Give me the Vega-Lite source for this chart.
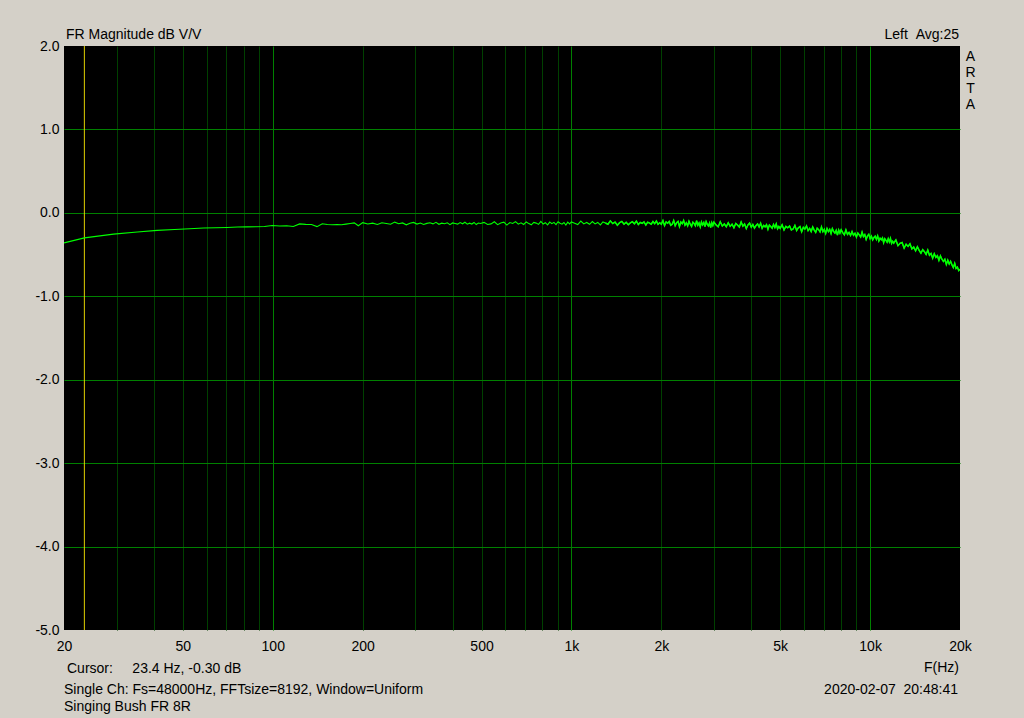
{
  "$schema": "https://vega.github.io/schema/vega-lite/v6.json",
  "width": 896,
  "height": 584,
  "autosize": {"type": "none"},
  "padding": {"left": 64, "top": 46, "right": 64, "bottom": 88},
  "background": "#D4D0C8",
  "config": {"view": {"fill": "#000000", "stroke": null}, "font": "Liberation Sans"},
  "datasets": {
    "fr": [
        {"f":20,"db":-0.36},{"f":23.4,"db":-0.30},{"f":29.3,"db":-0.255},{"f":35.2,"db":-0.23},{"f":41.0,"db":-0.21},{"f":46.9,"db":-0.20},{"f":52.7,"db":-0.19},{"f":58.6,"db":-0.182},{"f":64.5,"db":-0.178},{"f":70.3,"db":-0.175},{"f":76.2,"db":-0.17},{"f":82.0,"db":-0.168},{"f":87.9,"db":-0.167},{"f":93.8,"db":-0.164},{"f":99.6,"db":-0.152},{"f":105.5,"db":-0.158},{"f":111.3,"db":-0.155},{"f":117.2,"db":-0.163},{"f":123.0,"db":-0.132},{"f":128.9,"db":-0.138},{"f":134.8,"db":-0.14},{"f":140.6,"db":-0.165},{"f":146.5,"db":-0.13},{"f":152.3,"db":-0.14},{"f":158.2,"db":-0.142},{"f":164.1,"db":-0.14},{"f":169.9,"db":-0.142},{"f":175.8,"db":-0.135},{"f":181.6,"db":-0.128},{"f":187.5,"db":-0.12},{"f":193.4,"db":-0.155},
        {"f":200,"db":-0.117},{"f":208,"db":-0.134},{"f":216,"db":-0.123},{"f":224,"db":-0.140},{"f":232,"db":-0.119},{"f":240,"db":-0.127},{"f":248,"db":-0.136},{"f":256,"db":-0.111},{"f":264,"db":-0.131},{"f":272,"db":-0.121},{"f":280,"db":-0.143},{"f":288,"db":-0.124},{"f":296,"db":-0.115},{"f":304,"db":-0.135},{"f":312,"db":-0.122},{"f":320,"db":-0.139},{"f":328,"db":-0.126},{"f":336,"db":-0.118},{"f":344,"db":-0.132},{"f":352,"db":-0.114},{"f":360,"db":-0.137},{"f":368,"db":-0.123},{"f":376,"db":-0.130},{"f":384,"db":-0.119},{"f":392,"db":-0.141},{"f":400,"db":-0.121},{"f":408,"db":-0.127},{"f":416,"db":-0.135},{"f":424,"db":-0.117},{"f":432,"db":-0.131},{"f":440,"db":-0.113},{"f":448,"db":-0.136},{"f":456,"db":-0.124},{"f":464,"db":-0.134},{"f":472,"db":-0.115},{"f":480,"db":-0.140},{"f":488,"db":-0.122},{"f":496,"db":-0.128},
        {"f":510,"db":-0.114},{"f":524,"db":-0.139},{"f":538,"db":-0.132},{"f":552,"db":-0.107},{"f":566,"db":-0.141},{"f":580,"db":-0.121},{"f":594,"db":-0.112},{"f":608,"db":-0.147},{"f":622,"db":-0.116},{"f":636,"db":-0.127},{"f":650,"db":-0.105},{"f":664,"db":-0.136},{"f":678,"db":-0.120},{"f":692,"db":-0.139},{"f":706,"db":-0.109},{"f":720,"db":-0.129},{"f":734,"db":-0.143},{"f":748,"db":-0.114},{"f":762,"db":-0.123},{"f":776,"db":-0.138},{"f":790,"db":-0.103},{"f":804,"db":-0.134},{"f":818,"db":-0.118},{"f":832,"db":-0.145},{"f":846,"db":-0.111},{"f":860,"db":-0.130},{"f":874,"db":-0.114},{"f":888,"db":-0.141},{"f":902,"db":-0.107},{"f":916,"db":-0.125},{"f":930,"db":-0.136},{"f":944,"db":-0.116},{"f":958,"db":-0.147},{"f":972,"db":-0.112},{"f":986,"db":-0.132},{"f":1000,"db":-0.109},
        {"f":1025,"db":-0.124},{"f":1050,"db":-0.140},{"f":1075,"db":-0.098},{"f":1100,"db":-0.133},{"f":1125,"db":-0.115},{"f":1150,"db":-0.137},{"f":1175,"db":-0.104},{"f":1200,"db":-0.133},{"f":1225,"db":-0.115},{"f":1250,"db":-0.144},{"f":1275,"db":-0.109},{"f":1300,"db":-0.122},{"f":1325,"db":-0.137},{"f":1350,"db":-0.096},{"f":1375,"db":-0.129},{"f":1400,"db":-0.111},{"f":1425,"db":-0.148},{"f":1450,"db":-0.118},{"f":1475,"db":-0.102},{"f":1500,"db":-0.135},{"f":1525,"db":-0.113},{"f":1550,"db":-0.142},{"f":1575,"db":-0.120},{"f":1600,"db":-0.107},{"f":1625,"db":-0.131},{"f":1650,"db":-0.100},{"f":1675,"db":-0.140},{"f":1700,"db":-0.115},{"f":1725,"db":-0.126},{"f":1750,"db":-0.109},{"f":1775,"db":-0.146},{"f":1800,"db":-0.111},{"f":1825,"db":-0.122},{"f":1850,"db":-0.135},{"f":1875,"db":-0.104},{"f":1900,"db":-0.129},{"f":1925,"db":-0.098},{"f":1950,"db":-0.137},{"f":1975,"db":-0.118},
        {"f":2000,"db":-0.136},{"f":2025,"db":-0.092},{"f":2050,"db":-0.153},{"f":2075,"db":-0.109},{"f":2100,"db":-0.125},{"f":2125,"db":-0.103},{"f":2150,"db":-0.149},{"f":2175,"db":-0.136},{"f":2200,"db":-0.092},{"f":2225,"db":-0.153},{"f":2250,"db":-0.119},{"f":2275,"db":-0.103},{"f":2300,"db":-0.164},{"f":2325,"db":-0.111},{"f":2350,"db":-0.130},{"f":2375,"db":-0.092},{"f":2400,"db":-0.147},{"f":2425,"db":-0.119},{"f":2450,"db":-0.155},{"f":2475,"db":-0.101},{"f":2500,"db":-0.136},{"f":2525,"db":-0.163},{"f":2550,"db":-0.112},{"f":2575,"db":-0.128},{"f":2600,"db":-0.154},{"f":2625,"db":-0.094},{"f":2650,"db":-0.149},{"f":2675,"db":-0.121},{"f":2700,"db":-0.169},{"f":2725,"db":-0.109},{"f":2750,"db":-0.145},{"f":2775,"db":-0.116},{"f":2800,"db":-0.165},{"f":2825,"db":-0.105},{"f":2850,"db":-0.137},{"f":2875,"db":-0.157},{"f":2900,"db":-0.122},{"f":2925,"db":-0.177},{"f":2950,"db":-0.117},{"f":2975,"db":-0.152},
        {"f":3000,"db":-0.111},{"f":3050,"db":-0.144},{"f":3100,"db":-0.167},{"f":3150,"db":-0.107},{"f":3200,"db":-0.158},{"f":3250,"db":-0.133},{"f":3300,"db":-0.166},{"f":3350,"db":-0.119},{"f":3400,"db":-0.161},{"f":3450,"db":-0.136},{"f":3500,"db":-0.178},{"f":3550,"db":-0.127},{"f":3600,"db":-0.147},{"f":3650,"db":-0.170},{"f":3700,"db":-0.110},{"f":3750,"db":-0.159},{"f":3800,"db":-0.134},{"f":3850,"db":-0.189},{"f":3900,"db":-0.144},{"f":3950,"db":-0.123},{"f":4000,"db":-0.171},{"f":4050,"db":-0.140},{"f":4100,"db":-0.183},{"f":4150,"db":-0.152},{"f":4200,"db":-0.133},{"f":4250,"db":-0.169},{"f":4300,"db":-0.125},{"f":4350,"db":-0.184},{"f":4400,"db":-0.150},{"f":4450,"db":-0.167},{"f":4500,"db":-0.142},{"f":4550,"db":-0.197},{"f":4600,"db":-0.147},{"f":4650,"db":-0.164},{"f":4700,"db":-0.184},{"f":4750,"db":-0.140},{"f":4800,"db":-0.176},{"f":4850,"db":-0.132},{"f":4900,"db":-0.191},{"f":4950,"db":-0.163},
        {"f":5000,"db":-0.186},{"f":5075,"db":-0.143},{"f":5150,"db":-0.205},{"f":5225,"db":-0.162},{"f":5300,"db":-0.179},{"f":5375,"db":-0.158},{"f":5450,"db":-0.205},{"f":5525,"db":-0.193},{"f":5600,"db":-0.150},{"f":5675,"db":-0.212},{"f":5750,"db":-0.179},{"f":5825,"db":-0.164},{"f":5900,"db":-0.226},{"f":5975,"db":-0.174},{"f":6050,"db":-0.194},{"f":6125,"db":-0.157},{"f":6200,"db":-0.213},{"f":6275,"db":-0.186},{"f":6350,"db":-0.223},{"f":6425,"db":-0.170},{"f":6500,"db":-0.206},{"f":6575,"db":-0.234},{"f":6650,"db":-0.184},{"f":6725,"db":-0.201},{"f":6800,"db":-0.228},{"f":6875,"db":-0.169},{"f":6950,"db":-0.225},{"f":7025,"db":-0.198},{"f":7100,"db":-0.247},{"f":7175,"db":-0.188},{"f":7250,"db":-0.225},{"f":7325,"db":-0.198},{"f":7400,"db":-0.248},{"f":7475,"db":-0.189},{"f":7550,"db":-0.222},{"f":7625,"db":-0.243},{"f":7700,"db":-0.209},{"f":7775,"db":-0.266},{"f":7850,"db":-0.206},{"f":7925,"db":-0.243},
        {"f":8000,"db":-0.203},{"f":8100,"db":-0.238},{"f":8200,"db":-0.263},{"f":8300,"db":-0.205},{"f":8400,"db":-0.258},{"f":8500,"db":-0.235},{"f":8600,"db":-0.270},{"f":8700,"db":-0.225},{"f":8800,"db":-0.269},{"f":8900,"db":-0.246},{"f":9000,"db":-0.290},{"f":9100,"db":-0.242},{"f":9200,"db":-0.264},{"f":9300,"db":-0.290},{"f":9400,"db":-0.232},{"f":9500,"db":-0.284},{"f":9600,"db":-0.261},{"f":9700,"db":-0.319},{"f":9800,"db":-0.277},{"f":9900,"db":-0.258},{"f":10000,"db":-0.309},{"f":10100,"db":-0.280},{"f":10200,"db":-0.325},{"f":10300,"db":-0.296},{"f":10400,"db":-0.280},{"f":10500,"db":-0.318},{"f":10600,"db":-0.276},{"f":10700,"db":-0.337},{"f":10800,"db":-0.304},{"f":10900,"db":-0.323},{"f":11000,"db":-0.301},{"f":11100,"db":-0.358},{"f":11200,"db":-0.310},{"f":11300,"db":-0.329},{"f":11400,"db":-0.351},{"f":11500,"db":-0.309},{"f":11600,"db":-0.348},{"f":11700,"db":-0.306},{"f":11800,"db":-0.366},{"f":11900,"db":-0.341},
        {"f":12000,"db":-0.363},{"f":12200,"db":-0.325},{"f":12400,"db":-0.393},{"f":12600,"db":-0.365},{"f":12800,"db":-0.356},{"f":13000,"db":-0.423},{"f":13200,"db":-0.376},{"f":13400,"db":-0.402},{"f":13600,"db":-0.371},{"f":13800,"db":-0.432},{"f":14000,"db":-0.410},{"f":14200,"db":-0.454},{"f":14400,"db":-0.407},{"f":14600,"db":-0.450},{"f":14800,"db":-0.484},{"f":15000,"db":-0.441},{"f":15200,"db":-0.465},{"f":15400,"db":-0.498},{"f":15600,"db":-0.446},{"f":15800,"db":-0.508},{"f":16000,"db":-0.487},{"f":16200,"db":-0.543},{"f":16400,"db":-0.490},{"f":16600,"db":-0.534},{"f":16800,"db":-0.513},{"f":17000,"db":-0.569},{"f":17200,"db":-0.516},{"f":17400,"db":-0.556},{"f":17600,"db":-0.583},{"f":17800,"db":-0.556},{"f":18000,"db":-0.618},{"f":18200,"db":-0.568},{"f":18400,"db":-0.613},{"f":18600,"db":-0.581},{"f":18800,"db":-0.623},{"f":19000,"db":-0.656},{"f":19200,"db":-0.605},{"f":19400,"db":-0.666},{"f":19600,"db":-0.650},{"f":19800,"db":-0.692},{"f":20000,"db":-0.675}
    ]
  },
  "layer": [
    {
      "data": {"values": [{}]},
      "mark": {"type": "rule", "color": "#E0D000", "strokeWidth": 1},
      "encoding": {"x": {"datum": 23.4, "type": "quantitative"}}
    },
    {
      "data": {"name": "fr"},
      "mark": {"type": "line", "color": "#00FF00", "strokeWidth": 1.1, "clip": true, "interpolate": "linear"},
      "encoding": {
        "x": {
          "field": "f", "type": "quantitative",
          "scale": {"type": "log", "domain": [20, 20000], "nice": false},
          "axis": {
            "values": [20,30,40,50,60,70,80,90,100,200,300,400,500,600,700,800,900,1000,2000,3000,4000,5000,6000,7000,8000,9000,10000,20000],
            "title": null, "domain": false, "ticks": false,
            "labelPadding": 9, "labelFontSize": 14, "labelColor": "#000000", "labelFont": "Liberation Sans",
            "labelFlush": false, "labelOverlap": false,
            "labelExpr": "indexof([20,50,100,200,500], datum.value) >= 0 ? '' + datum.value : (indexof([1000,2000,5000,10000,20000], datum.value) >= 0 ? (datum.value / 1000) + 'k' : '')",
            "grid": true, "gridWidth": 1,
            "gridColor": {"condition": {"test": "datum.value == 100 || datum.value == 1000 || datum.value == 10000", "value": "#008000"}, "value": "#004000"},
            "gridOpacity": {"condition": {"test": "datum.value == 20 || datum.value == 20000", "value": 0}, "value": 1}
          }
        },
        "y": {
          "field": "db", "type": "quantitative",
          "scale": {"domain": [-5, 2], "nice": false, "zero": false},
          "axis": {
            "values": [-5,-4,-3,-2,-1,0,1,2],
            "title": null, "domain": false, "ticks": false,
            "labelPadding": 5, "labelFontSize": 14, "labelColor": "#000000", "labelFont": "Liberation Sans",
            "labelFlush": false, "labelOverlap": false,
            "labelExpr": "(datum.value < 0 ? '-' : '') + format(abs(datum.value), '.1f')",
            "grid": true, "gridWidth": 1, "gridColor": "#008000",
            "gridOpacity": {"condition": {"test": "datum.value == -5 || datum.value == 2", "value": 0}, "value": 1}
          }
        }
      }
    },
    {
      "data": {"name": "fr"},
      "transform": [{"filter": "datum.f >= 1300"}],
      "mark": {"type": "line", "color": "#00FF00", "strokeWidth": 1.5, "clip": true, "interpolate": "linear"},
      "encoding": {
        "x": {"field": "f", "type": "quantitative"},
        "y": {"field": "db", "type": "quantitative"}
      }
    },
    {
      "data": {"values": [{}]},
      "mark": {"type": "text", "text": "FR Magnitude dB V/V", "align": "left", "baseline": "alphabetic", "dx": 2, "dy": -7, "fontSize": 14, "font": "Liberation Sans", "color": "#000000"},
      "encoding": {"x": {"datum": 20, "type": "quantitative"}, "y": {"datum": 2, "type": "quantitative"}}
    },
    {
      "data": {"values": [{}]},
      "mark": {"type": "text", "text": "Left\u00a0\u00a0Avg:25", "align": "right", "baseline": "alphabetic", "dx": -1, "dy": -7, "fontSize": 14, "font": "Liberation Sans", "color": "#000000"},
      "encoding": {"x": {"datum": 20000, "type": "quantitative"}, "y": {"datum": 2, "type": "quantitative"}}
    },
    {
      "data": {"values": [{}]},
      "mark": {"type": "text", "text": ["A", "R", "T", "A"], "align": "center", "baseline": "alphabetic", "dx": 10.5, "dy": 15, "lineHeight": 16, "fontSize": 14, "font": "Liberation Sans", "color": "#000000"},
      "encoding": {"x": {"datum": 20000, "type": "quantitative"}, "y": {"datum": 2, "type": "quantitative"}}
    },
    {
      "data": {"values": [{}]},
      "mark": {"type": "text", "text": "Cursor:\u00a0\u00a0\u00a0\u00a0 23.4 Hz, -0.30 dB", "align": "left", "baseline": "alphabetic", "dx": 3, "dy": 43, "fontSize": 14, "font": "Liberation Sans", "color": "#000000"},
      "encoding": {"x": {"datum": 20, "type": "quantitative"}, "y": {"datum": -5, "type": "quantitative"}}
    },
    {
      "data": {"values": [{}]},
      "mark": {"type": "text", "text": "Single Ch: Fs=48000Hz, FFTsize=8192, Window=Uniform", "align": "left", "baseline": "alphabetic", "dx": 0, "dy": 64, "fontSize": 14, "font": "Liberation Sans", "color": "#000000"},
      "encoding": {"x": {"datum": 20, "type": "quantitative"}, "y": {"datum": -5, "type": "quantitative"}}
    },
    {
      "data": {"values": [{}]},
      "mark": {"type": "text", "text": "Singing Bush FR 8R", "align": "left", "baseline": "alphabetic", "dx": 0, "dy": 81, "fontSize": 14, "font": "Liberation Sans", "color": "#000000"},
      "encoding": {"x": {"datum": 20, "type": "quantitative"}, "y": {"datum": -5, "type": "quantitative"}}
    },
    {
      "data": {"values": [{}]},
      "mark": {"type": "text", "text": "F(Hz)", "align": "right", "baseline": "alphabetic", "dx": -1, "dy": 42, "fontSize": 14, "font": "Liberation Sans", "color": "#000000"},
      "encoding": {"x": {"datum": 20000, "type": "quantitative"}, "y": {"datum": -5, "type": "quantitative"}}
    },
    {
      "data": {"values": [{}]},
      "mark": {"type": "text", "text": "2020-02-07\u00a0\u00a020:48:41", "align": "right", "baseline": "alphabetic", "dx": -2, "dy": 64, "fontSize": 14, "font": "Liberation Sans", "color": "#000000"},
      "encoding": {"x": {"datum": 20000, "type": "quantitative"}, "y": {"datum": -5, "type": "quantitative"}}
    }
  ]
}
